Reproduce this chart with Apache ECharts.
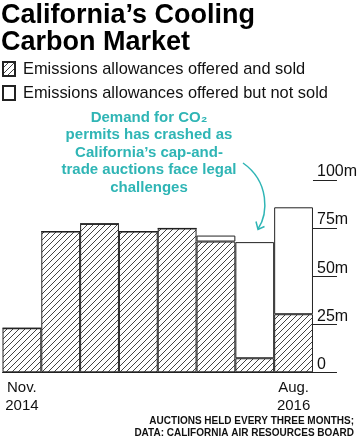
<!DOCTYPE html>
<html><head><meta charset="utf-8">
<script src="https://cdn.jsdelivr.net/npm/echarts@6/dist/echarts.min.js"></script>
<style>html,body{margin:0;padding:0;background:#fff}#c{width:360px;height:440px}</style>
</head><body><div id="c"></div>
<script>
const categories = ['Nov. 2014','Feb. 2015','May 2015','Aug. 2015','Nov. 2015','Feb. 2016','May 2016','Aug. 2016'];
const soldValues = [22.9, 73.2, 77.2, 73.2, 74.8, 68.0, 7.3, 30.2];
const unsoldValues = [0, 0, 0, 0, 0, 3.1, 60.4, 55.6];
const yTicks = [0, 25, 50, 75, 100];
const firstLabel = 'Nov.\n2014';
const lastLabel = 'Aug.\n2016';

const FONT = '"Liberation Sans", Arial, sans-serif';
const TEAL = '#2fb5b5';

// diagonal hatch pattern
const pc = document.createElement('canvas');
pc.width = 6; pc.height = 6;
const g = pc.getContext('2d');
g.fillStyle = '#fff'; g.fillRect(0,0,6,6);
g.strokeStyle = '#444'; g.lineWidth = 1;
g.beginPath();
g.moveTo(-1,7); g.lineTo(7,-1);
g.moveTo(-1,1); g.lineTo(1,-1);
g.moveTo(5,7); g.lineTo(7,5);
g.stroke();
const hatch = {image: pc, repeat: 'repeat'};

const chart = echarts.init(document.getElementById('c'), null, {renderer:'canvas'});
chart.setOption({
  animation: false,
  backgroundColor: '#fff',
  textStyle: {fontFamily: FONT},
  title: {
    text: 'California\u2019s Cooling\nCarbon Market',
    left: 1, top: 2, padding: 0,
    textStyle: {fontFamily: FONT, fontSize: 27, fontWeight: 'bold', color: '#000', lineHeight: 27}
  },
  legend: {
    orient: 'vertical', left: 2, top: 61, padding: 0,
    itemWidth: 12, itemHeight: 14, itemGap: 8,
    icon: 'rect',
    textStyle: {fontFamily: FONT, fontSize: 16.4, color: '#111', padding: [0,0,0,3]},
    data: ['Emissions allowances offered and sold', 'Emissions allowances offered but not sold']
  },
  grid: {left: 2.5, right: 46, top: 180, bottom: 67.7, containLabel: false},
  xAxis: {
    type: 'category', data: categories,
    axisLine: {show: true, lineStyle: {color: '#222', width: 1}},
    axisTick: {show: false},
    axisLabel: {
      interval: 0, margin: 7, fontFamily: FONT, fontSize: 15, color: '#111', lineHeight: 18,
      formatter: (v, i) => i === 0 ? firstLabel : (i === categories.length - 1 ? lastLabel : '')
    }
  },
  yAxis: {
    type: 'value', position: 'right', min: 0, max: 100, interval: 25,
    axisLine: {show: false},
    axisTick: {show: true, inside: false, length: 24, lineStyle: {color: '#222', width: 1}},
    splitLine: {show: false},
    axisLabel: {
      margin: 4, align: 'left', verticalAlign: 'bottom', padding: [0,0,0,0],
      fontFamily: FONT, fontSize: 16, color: '#111',
      formatter: v => yTicks.includes(v) ? (v === 0 ? '0' : v + 'm') : ''
    }
  },
  series: [
    {
      name: 'Emissions allowances offered and sold', type: 'bar', stack: 'a',
      data: soldValues, barCategoryGap: 0,
      itemStyle: {color: hatch, borderColor: '#222', borderWidth: 1}
    },
    {
      name: 'Emissions allowances offered but not sold', type: 'bar', stack: 'a',
      data: unsoldValues, barCategoryGap: 0,
      itemStyle: {color: '#fff', borderColor: '#222', borderWidth: 1}
    }
  ],
  graphic: [
    {
      type: 'text', x: 149, y: 109,
      style: {
        text: 'Demand for CO\u2082\npermits has crashed as\nCalifornia\u2019s cap-and-\ntrade auctions face legal\nchallenges',
        fill: TEAL, font: 'bold 15px ' + FONT, align: 'center', lineHeight: 17.5
      }
    },
    {
      type: 'bezierCurve',
      shape: {x1: 243, y1: 163, cpx1: 270, cpy1: 182, cpx2: 268, cpy2: 214, x2: 258, y2: 229},
      style: {stroke: TEAL, lineWidth: 1.5, fill: null}
    },
    {
      type: 'polyline',
      shape: {points: [[256, 221.5], [258, 229.5], [264.5, 226.5]]},
      style: {stroke: TEAL, lineWidth: 1.5, fill: null}
    },
    {
      type: 'text', x: 354, y: 415,
      style: {
        text: 'AUCTIONS HELD EVERY THREE MONTHS;\nDATA: CALIFORNIA AIR RESOURCES BOARD',
        fill: '#111', font: 'bold 10px ' + FONT, align: 'right', lineHeight: 12
      }
    }
  ]
});
</script></body></html>
